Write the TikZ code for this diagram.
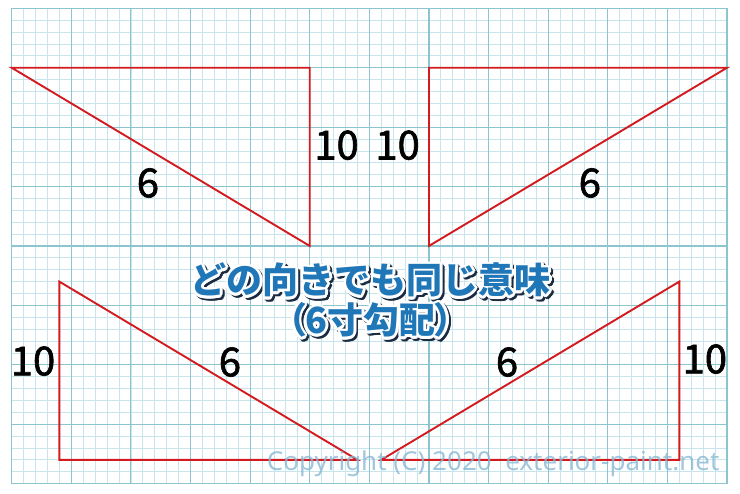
\documentclass[tikz,border=0pt]{standalone}
\usepackage{fontspec}
\usepackage{contour}
\newfontfamily\jpfont{Noto Sans CJK JP}
\newfontfamily\jppfont{Noto Sans CJK JP}[RawFeature=+palt]
\newfontfamily\numfont{Noto Sans CJK JP}[FakeBold=1.6]
\setsansfont{Noto Sans}
\definecolor{gridminor}{HTML}{C8E4EC}
\definecolor{gridmajor}{HTML}{8CC4D0}
\definecolor{legred}{HTML}{D21A1F}
\definecolor{titleblue}{HTML}{1F77B8}
\definecolor{titleshade}{HTML}{1A2A40}
\definecolor{copyblue}{HTML}{88B8D4}
\contourlength{2.5pt}
\newcommand{\titleline}[1]{%
  \rlap{\kern2pt\raisebox{-2pt}{\color{titleshade}\contour{titleshade}{#1}}}%
  {\color{titleblue}\contour{white}{#1}}}

\begin{document}
\begin{tikzpicture}[x=11.92pt, y=-11.88pt,
  every node/.style={inner sep=0pt},
  minor/.style={gridminor, line width=0.8pt},
  major/.style={gridmajor, line width=1.1pt},
  leg/.style={legred, line width=1.9pt},
  num/.style={font=\numfont\fontsize{40}{40}\selectfont},
  title/.style={font=\jpfont\bfseries\fontsize{36}{37}\selectfont, align=center},
  copy/.style={font=\sffamily\fontsize{26}{26}\selectfont, text=copyblue, text opacity=0.8}]
\useasboundingbox (-0.98,-0.70) rectangle (61.09,40.80);

% graph paper
\foreach \i in {0,...,60} \draw[minor] (\i,0) -- (\i,40);
\foreach \j in {0,...,40} \draw[minor] (0,\j) -- (60,\j);
\foreach \i in {0,5,...,60} \draw[major] (\i,0) -- (\i,40);
\foreach \j in {0,5,...,40} \draw[major] (0,\j) -- (60,\j);

% four triangles, 10 : 6
\coordinate (a1) at (0,5);  \coordinate (a2) at (25,5);  \coordinate (a3) at (25,20);
\coordinate (b1) at (35,5); \coordinate (b2) at (60,5);  \coordinate (b3) at (35,20);
\coordinate (c1) at (4,23); \coordinate (c2) at (4,38);  \coordinate (c3) at (29,38);
\coordinate (d1) at (56,23); \coordinate (d2) at (56,38); \coordinate (d3) at (31,38);
\draw[leg] (a1) -- (a2) -- (a3) -- cycle;
\draw[leg] (b1) -- (b2) -- (b3) -- cycle;
\draw[leg] (c1) -- (c2) -- (c3) -- cycle;
\draw[leg] (d1) -- (d2) -- (d3) -- cycle;

\node[num] (ha) at (27.25,11.52) {10};
\node[num] (hb) at (32.37,11.52) {10};
\node[num] (sa) at (11.43,14.70) {6};
\node[num] (sb) at (48.50,14.70) {6};
\node[num] (hc) at (1.79,29.69) {10};
\node[num] (sc) at (18.31,29.77) {6};
\node[num] (sd) at (41.55,29.77) {6};
\node[num] (hd) at (58.14,29.52) {10};

\node[title] (title) at (30.10,24.76)
  {\titleline{どの向きでも同じ意味}\\\titleline{\jppfont\bfseries （6寸勾配）}};

\node[copy, anchor=base west] (copyright) at (21.39,38.86)
  {Copyright (C) 2020\ \ exterior-paint.net};
\end{tikzpicture}
\end{document}
